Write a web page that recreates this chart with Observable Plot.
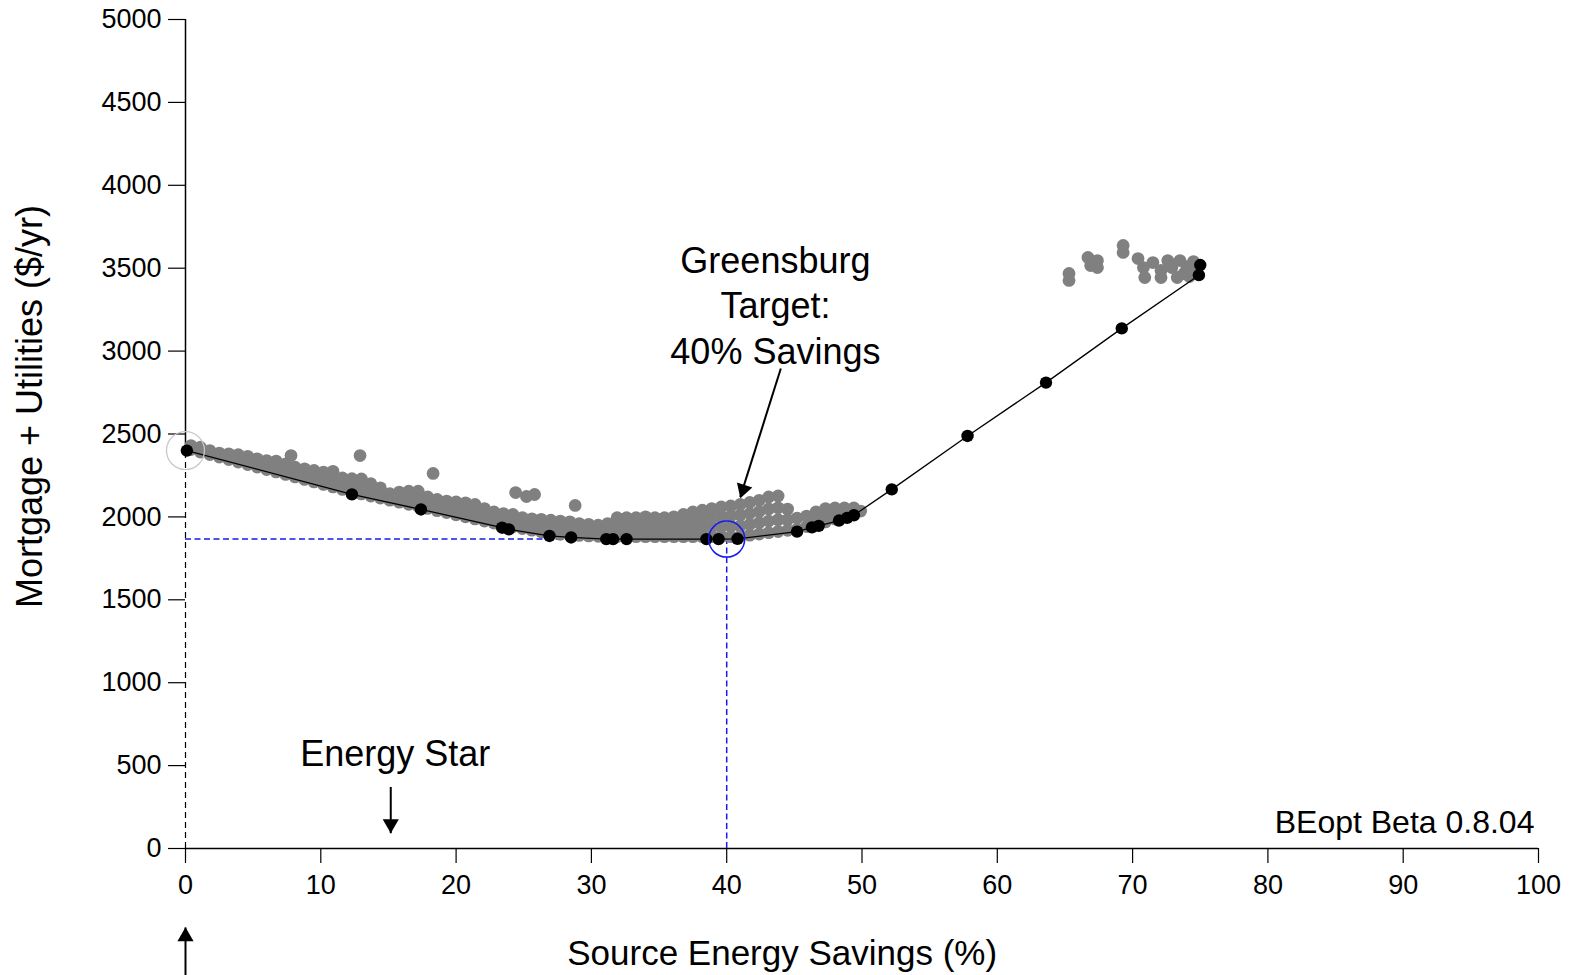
<!DOCTYPE html>
<html>
<head>
<meta charset="utf-8">
<script src="https://cdn.jsdelivr.net/npm/d3@7"></script>
<script src="https://cdn.jsdelivr.net/npm/@observablehq/plot@0.6"></script>
<style>
  html, body { margin: 0; padding: 0; background: #fff; }
  svg { display: block; }
</style>
</head>
<body>
<div id="chart"></div>
<script>
// ---- tick values ----
const xTicks = [0, 10, 20, 30, 40, 50, 60, 70, 80, 90, 100];
const yTicks = [0, 500, 1000, 1500, 2000, 2500, 3000, 3500, 4000, 4500, 5000];

// ---- least-cost (Pareto) curve: [savings %, $/yr] ----
const pareto = [
  [0.1, 2400], [12.3, 2136], [17.4, 2045], [23.4, 1935], [23.9, 1925],
  [26.9, 1885], [28.5, 1876], [31.1, 1866], [31.6, 1866], [32.6, 1866],
  [38.5, 1866], [39.4, 1866], [40.8, 1868], [45.2, 1911], [46.3, 1937],
  [46.8, 1946], [48.3, 1978], [48.9, 1994], [49.4, 2010], [52.2, 2166],
  [57.8, 2488], [63.6, 2810], [69.2, 3137], [74.9, 3458], [75.0, 3519]
];

// ---- all simulated designs (gray): main band ----
const cloudBand = [
  [0.4,2406],[0.4,2430],[1.1,2391],[1.1,2420],[1.8,2376],[1.8,2400],
  [2.5,2361],[2.5,2385],[3.2,2346],[3.2,2380],[3.9,2331],[3.9,2375],
  [4.6,2316],[4.6,2365],[5.3,2301],[5.3,2350],[6.0,2286],[6.0,2340],
  [6.7,2271],[6.7,2305],[6.7,2337],[7.4,2256],[7.4,2290],[7.4,2320],
  [8.1,2241],[8.1,2272],[8.1,2300],[8.8,2226],[8.8,2260],[8.8,2290],
  [9.5,2211],[9.5,2245],[9.5,2280],[10.2,2196],[10.2,2235],[10.2,2270],
  [10.9,2181],[10.9,2215],[10.9,2250],[11.6,2166],[11.6,2200],[11.6,2235],
  [12.3,2151],[12.3,2190],[12.3,2230],[13.0,2139],[13.0,2185],[13.0,2229],
  [13.7,2126],[13.7,2165],[13.7,2200],[14.4,2114],[14.4,2145],[14.4,2175],
  [15.1,2101],[15.1,2140],[15.8,2089],[15.8,2120],[15.8,2150],
  [16.5,2076],[16.5,2115],[16.5,2155],[17.2,2064],[17.2,2110],[17.2,2155],
  [17.9,2051],[17.9,2085],[17.9,2120],[18.6,2038],[18.6,2072],[18.6,2105],
  [19.3,2026],[19.3,2060],[19.3,2095],[20.0,2013],[20.0,2050],[20.0,2090],
  [20.7,2001],[20.7,2043],[20.7,2085],[21.4,1988],[21.4,2030],[21.4,2075],
  [22.1,1975],[22.1,2012],[22.1,2050],[22.8,1963],[22.8,1997],[22.8,2030],
  [23.5,1950],[23.5,1985],[23.5,2020],[24.2,1940],[24.2,1978],[24.2,2015],
  [24.9,1930],[24.9,1962],[24.9,1995],[25.6,1920],[25.6,1955],[25.6,1988],
  [26.3,1910],[26.3,1948],[26.3,1985],[27.0,1900],[27.0,1940],[27.0,1980],
  [27.7,1895],[27.7,1935],[27.7,1975],[28.4,1891],[28.4,1930],[28.4,1970],
  [29.1,1888],[29.1,1925],[29.1,1960],[29.8,1885],[29.8,1920],[29.8,1955],
  [30.5,1883],[30.5,1917],[30.5,1950],[31.2,1881],[31.2,1920],[31.2,1960],
  [31.9,1881],[31.9,1920],[31.9,1958],[31.9,1995],
  [32.6,1881],[32.6,1920],[32.6,1958],[32.6,1995],
  [33.3,1881],[33.3,1920],[33.3,1958],[33.3,1995],
  [34.0,1881],[34.0,1920],[34.0,1958],[34.0,2000],
  [34.7,1881],[34.7,1920],[34.7,1958],[34.7,1995],
  [35.4,1881],[35.4,1920],[35.4,1958],[35.4,1995],
  [36.1,1881],[36.1,1920],[36.1,1958],[36.1,2000],
  [36.8,1881],[36.8,1925],[36.8,1970],[36.8,2015],
  [37.5,1881],[37.5,1930],[37.5,1980],[37.5,2030],
  [38.2,1881],[38.2,1935],[38.2,1988],[38.2,2040],
  [38.9,1881],[38.9,1937],[38.9,1993],[38.9,2050],
  [39.6,1881],[39.6,1940],[39.6,2000],[39.6,2060],
  [40.3,1881],[40.3,1943],[40.3,2005],[40.3,2066],
  [41.0,1883],[41.0,1947],[41.0,2011],[41.0,2075],
  [41.7,1890],[41.7,1955],[41.7,2020],[41.7,2087],
  [42.4,1897],[42.4,1965],[42.4,2032],[42.4,2100],
  [43.1,1905],[43.1,1975],[43.1,2048],[43.1,2120],
  [43.8,1912],[43.8,1983],[43.8,2055],[43.8,2126],
  [44.5,1919],[44.5,1983],[44.5,2047],[45.2,1926],[45.2,1993],
  [45.9,1942],[45.9,2005],[46.6,1957],[46.6,1995],[46.6,2030],
  [47.3,1970],[47.3,2010],[47.3,2050],[48.0,1987],[48.0,2020],[48.0,2054],
  [48.7,2005],[48.7,2054],[49.4,2025],[49.4,2054],[49.9,2035]
];

// ---- gray outliers above the band ----
const cloudOutliers = [
  [7.8,2370],[12.9,2370],[10.9,2275],[18.3,2262],
  [24.4,2147],[25.2,2123],[25.8,2135],[28.8,2069]
];

// ---- gray cluster at high savings ----
const cloudHigh = [
  [65.3,3468],[65.3,3426],[66.7,3565],[67.4,3546],[66.9,3516],[67.4,3504],
  [69.3,3637],[69.3,3595],[70.4,3558],[70.8,3504],[70.9,3444],[71.5,3534],
  [72.1,3486],[72.6,3546],[72.9,3504],[73.5,3546],[73.8,3468],[73.3,3444],
  [74.3,3504],[72.1,3444],[74.5,3540],[74.0,3510],[74.2,3450]
];

// ---- reference points ----
const baseCase = [[0, 2400]];
const targetCase = [[40, 1866]];

const greensburgText = "Greensburg\nTarget:\n40% Savings";
const energyStarText = "Energy Star";
const versionText = "BEopt Beta 0.8.04";
const xLabel = "Source Energy Savings (%)";
const yLabel = "Mortgage + Utilities ($/yr)";

const FONT = "'Liberation Sans', Arial, Helvetica, sans-serif";

const chart = Plot.plot({
  width: 1577,
  height: 975,
  marginLeft: 185,
  marginRight: 39,
  marginTop: 19,
  marginBottom: 127,
  style: { fontFamily: FONT, background: "#fff", color: "#000", overflow: "visible" },
  x: { domain: [0, 100] },
  y: { domain: [0, 5000] },
  marks: [
    // axes
    Plot.axisX({ ticks: xTicks, tickSize: 15, tickPadding: 11, fontSize: 27, label: null, tickFormat: d3.format("d"), strokeWidth: 1.2 }),
    Plot.axisY({ ticks: yTicks, tickSize: 17, tickPadding: 7, fontSize: 27, label: null, tickFormat: d3.format("d"), strokeWidth: 1.2 }),
    Plot.ruleY([{ y: 0, x1: 0, x2: 100 }], { y: "y", x1: "x1", x2: "x2", stroke: "#000", strokeWidth: 1.5 }),
    Plot.ruleX([{ x: 0, y1: 2400, y2: 5000 }], { x: "x", y1: "y1", y2: "y2", stroke: "#000", strokeWidth: 1.5 }),

    // guide lines
    Plot.ruleX([{ x: baseCase[0][0], y1: 0, y2: baseCase[0][1] }], { x: "x", y1: "y1", y2: "y2", stroke: "#000", strokeWidth: 1.2, strokeDasharray: "6,4" }),
    Plot.ruleY([{ y: targetCase[0][1], x1: 0, x2: targetCase[0][0] }], { y: "y", x1: "x1", x2: "x2", stroke: "#1a1aee", strokeWidth: 1.5, strokeDasharray: "6,3.5" }),
    Plot.ruleX([{ x: targetCase[0][0], y1: 0, y2: targetCase[0][1] }], { x: "x", y1: "y1", y2: "y2", stroke: "#1a1aee", strokeWidth: 1.5, strokeDasharray: "6,3.5" }),

    // all designs
    Plot.dot(cloudBand, { x: d => d[0], y: d => d[1], r: 6.4, fill: "#808080" }),
    Plot.dot(cloudOutliers, { x: d => d[0], y: d => d[1], r: 6.4, fill: "#808080" }),
    Plot.dot(cloudHigh, { x: d => d[0], y: d => d[1], r: 6.4, fill: "#808080" }),

    // least-cost curve
    Plot.line(pareto, { x: d => d[0], y: d => d[1], stroke: "#000", strokeWidth: 1.3 }),
    Plot.dot(pareto, { x: d => d[0], y: d => d[1], r: 6.2, fill: "#000" }),

    // highlight circles
    Plot.dot(baseCase, { x: d => d[0], y: d => d[1], r: 19, stroke: "#c8c8c8", strokeWidth: 1.3, fill: "none" }),
    Plot.dot(targetCase, { x: d => d[0], y: d => d[1], r: 18, stroke: "#1a1aee", strokeWidth: 1.5, fill: "none" }),

    // annotations
    Plot.text([greensburgText], { x: 43.6, y: 3285, text: d => d, fontSize: 36, lineHeight: 1.26, textAnchor: "middle", fill: "#000" }),
    Plot.link([{ x1: 44.0, y1: 2895, x2: 41.0, y2: 2119 }], { x1: "x1", y1: "y1", x2: "x2", y2: "y2", stroke: "#000", strokeWidth: 2 }),
    Plot.dot([{ x: 41.22, y: 2166 }], { x: "x", y: "y", symbol: "triangle", r: 6, fill: "#000", rotate: 198 }),

    Plot.text([energyStarText], { x: 15.5, y: 567, text: d => d, fontSize: 36, textAnchor: "middle", fill: "#000" }),
    Plot.link([{ x1: 15.17, y1: 371, x2: 15.17, y2: 92 }], { x1: "x1", y1: "y1", x2: "x2", y2: "y2", stroke: "#000", strokeWidth: 2 }),
    Plot.dot([{ x: 15.17, y: 148 }], { x: "x", y: "y", symbol: "triangle", r: 6, fill: "#000", rotate: 180 }),

    Plot.link([{ x1: 0, y1: -766, x2: 0, y2: -476 }], { x1: "x1", y1: "y1", x2: "x2", y2: "y2", stroke: "#000", strokeWidth: 2 }),
    Plot.dot([{ x: 0, y: -532 }], { x: "x", y: "y", symbol: "triangle", r: 6, fill: "#000" }),

    Plot.text([versionText], { x: 99.7, y: 158, text: d => d, fontSize: 32, textAnchor: "end", fill: "#000" }),

    // axis titles
    Plot.text([xLabel], { x: 44.1, y: -636, text: d => d, fontSize: 35, textAnchor: "middle", fill: "#000" }),
    Plot.text([yLabel], { x: -11.46, y: 2666, text: d => d, fontSize: 36, textAnchor: "middle", rotate: -90, fill: "#000" })
  ]
});

document.getElementById("chart").appendChild(chart);
</script>
</body>
</html>
